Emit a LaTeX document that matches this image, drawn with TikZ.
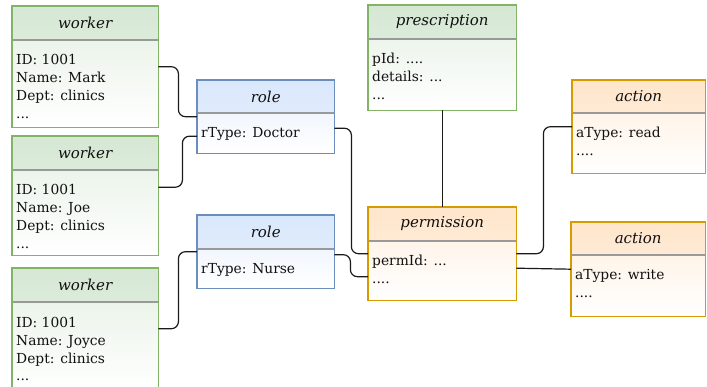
\documentclass[tikz,border=0pt]{standalone}
\usepackage{fontspec}
\setmainfont{DejaVu Serif}
\usetikzlibrary{calc}

\definecolor{gborder}{HTML}{82B366}
\definecolor{ghead}{HTML}{D5E8D4}
\definecolor{gbody}{HTML}{E4F0E2}
\definecolor{bborder}{HTML}{6C8EBF}
\definecolor{bhead}{HTML}{DAE8FC}
\definecolor{bbody}{HTML}{E6EFFD}
\definecolor{oborder}{HTML}{D79B00}
\definecolor{ohead}{HTML}{FFE6CC}
\definecolor{obody}{HTML}{FFEEDD}
\definecolor{divgray}{HTML}{999999}
\definecolor{connline}{HTML}{1A1A1A}
\definecolor{inktext}{HTML}{111111}

\tikzset{
  greenbody/.style={top color=gbody, bottom color=white},
  greenhead/.style={top color=ghead, bottom color=ghead!85!white},
  greenborder/.style={draw=gborder, line width=1.2pt},
  bluebody/.style={top color=bbody, bottom color=white},
  bluehead/.style={top color=bhead, bottom color=bhead!85!white},
  blueborder/.style={draw=bborder, line width=1.2pt},
  orangebody/.style={top color=obody, bottom color=white},
  orangehead/.style={top color=ohead, bottom color=ohead!85!white},
  orangeborder/.style={draw=oborder, line width=1.2pt},
  divider/.style={draw=divgray, line width=1.8pt},
  classtitle/.style={inner sep=0pt, text=inktext, font=\fontsize{15}{18}\selectfont\itshape},
  attrtext/.style={inner sep=0pt, text=inktext, font=\fontsize{13.8}{18}\selectfont},
  conn/.style={draw=connline, line width=1.2pt, rounded corners=7pt},
}

% one attribute line inside a class body
\newcommand\attrline[1]{\hbox{\strut #1}}

% #1 node name, #2 colour family, #3 x, #4 y, #5 width, #6 header height,
% #7 total height, #8 title, #9 attribute lines
\newcommand\classbox[9]{%
  \node[#2body, anchor=north west, inner sep=0pt, minimum width=#5pt,
        minimum height=#7pt] (#1) at (#3,#4) {};
  \path[#2head] (#1.north west) rectangle ($(#1.north east)+(0,#6)$);
  \draw[divider] ($(#1.north west)+(0,#6)$) -- ($(#1.north east)+(0,#6)$);
  \draw[#2border] (#1.north west) rectangle (#1.south east);
  \node[classtitle] at ($(#1.north)+(0,#6/2)$) {#8};
  \node[attrtext, anchor=base west] at ($(#1.north west)+(4,#6+25)$)
       {\vtop{#9}};%
}

\begin{document}
\begin{tikzpicture}[x=1pt, y=-1pt]
\useasboundingbox (0,0) rectangle (707,387);

% workers
\classbox{w1}{green}{12}{6}{146}{34}{121}{worker}
  {\attrline{ID: 1001}\attrline{Name: Mark}\attrline{Dept: clinics}\attrline{...}}
\classbox{w2}{green}{12}{136}{146}{34}{119}{worker}
  {\attrline{ID: 1001}\attrline{Name: Joe}\attrline{Dept: clinics}\attrline{...}}
\classbox{w3}{green}{12}{268}{146}{34}{121}{worker}
  {\attrline{ID: 1001}\attrline{Name: Joyce}\attrline{Dept: clinics}\attrline{...}}

% roles
\classbox{r1}{blue}{197}{80}{137}{33}{73}{role}{\attrline{rType: Doctor}}
\classbox{r2}{blue}{197}{215}{137}{34}{73}{role}{\attrline{rType: Nurse}}

% prescription and permission
\classbox{presc}{green}{368}{5}{148}{34}{105}{prescription}
  {\attrline{pId: ....}\attrline{details: ...}\attrline{...}}
\classbox{perm}{orange}{368}{207}{148}{34}{93}{permission}
  {\attrline{permId: ...}\attrline{....}}

% actions
\classbox{a1}{orange}{572}{80}{133}{33}{93}{action}
  {\attrline{aType: read}\attrline{....}}
\classbox{a2}{orange}{571}{222}{134}{33}{94}{action}
  {\attrline{aType: write}\attrline{....}}

% connectors
\draw[conn] (w1.east) -- ++(20,0) |- (r1.west);
\draw[conn] ($(w2.east)+(0,-8.5)$) -- ++(24,0) |- ($(r1.west)+(0,19.5)$);
\draw[conn] (w3.east) -- ++(20,0) |- (r2.west);
\draw[conn] ($(r1.east)+(0,11.5)$) -- ++(17,0) |- (perm.west);
\draw[conn] ($(r2.east)+(0,3)$) -- ++(16,0) |- ($(perm.west)+(0,23)$);
\draw[conn] (presc.south) -- (perm.north);
\draw[conn] (perm.east) -- ++(27,0) |- (a1.west);
\draw[conn] ($(perm.east)+(0,14.5)$) -- (a2.west);
\end{tikzpicture}
\end{document}
